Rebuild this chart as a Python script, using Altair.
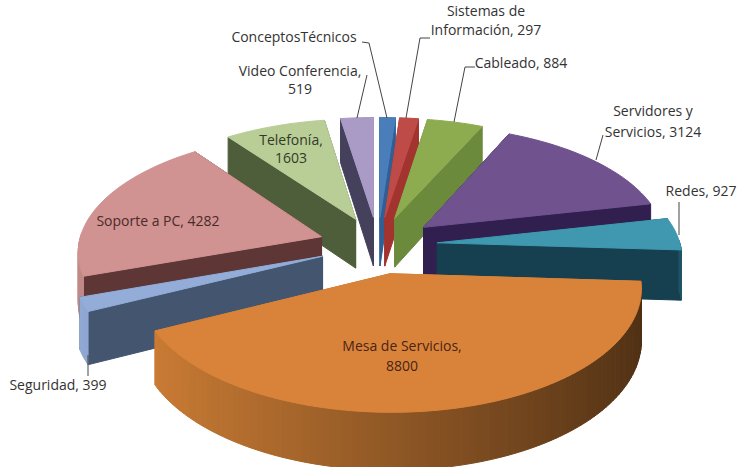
import math
import altair as alt
import pandas as pd

# Ticket counts per support area, clockwise from the right-hand side of the pie
categories = ["Mesa de Servicios", "Seguridad", "Soporte a PC", "Telefonía", "Video Conferencia",
              "ConceptosTécnicos", "Sistemas de Información", "Cableado", "Servidores y Servicios", "Redes"]
values = [8800, 399, 4282, 1603, 519, 250, 297, 884, 3124, 927]
top_colors = ["#D9833A", "#93ACD8", "#D09392", "#B9CE96", "#A99BC5",
              "#4A7EBB", "#BE4B48", "#8DAC50", "#70528F", "#3F97B0"]
wall_colors = ["#C47A30", "#44566F", "#5E3636", "#4E5E3B", "#45415C",
               "#2F5F94", "#A3332F", "#6B8A3B", "#31204F", "#16404F"]
rim_colors = ["#D07F36", "#93ACD8", "#C08A88", "#B9CE96", "#A99BC5",
              "#4A7EBB", "#BE4B48", "#8DAC50", "#70528F", "#1E5566"]

# Projection of the tilted, exploded pie
CX, CY = 378, 245
RX, RY, PERSPECTIVE = 243, 116.5, 0.11
DEPTH = 50
EXPLODE = 0.245
START_DEG = -3.5


def project(x, y, drop=0.0):
    s = 1 / (1 + PERSPECTIVE * y)
    return [round(CX + RX * x * s, 2), round(CY - RY * y * s + drop * DEPTH * s, 2)]


def polygon(points, fill):
    ring = points + [points[0]]
    return {"type": "Feature",
            "geometry": {"type": "Polygon", "coordinates": [ring]},
            "properties": {"fill": fill}}


def shade(hex_color, factor):
    rgb = [int(hex_color[i:i + 2], 16) for i in (1, 3, 5)]
    return "#" + "".join(f"{min(255, round(c * factor)):02x}" for c in rgb)


total = sum(values)
spans = []
angle = START_DEG
for value in values:
    sweep = value / total * 360
    spans.append((angle, angle - sweep))
    angle -= sweep

features = []
# Paint slices from the back of the pie towards the viewer
paint_order = sorted(range(len(values)),
                     key=lambda i: -math.sin(math.radians(sum(spans[i]) / 2)))
for i in paint_order:
    a0, a1 = spans[i]
    mid = math.radians((a0 + a1) / 2)
    ox, oy = EXPLODE * math.cos(mid), EXPLODE * math.sin(mid)
    steps = max(2, int((a0 - a1) / 1.5))
    angles = [math.radians(a0 + (a1 - a0) * t / steps) for t in range(steps + 1)]
    rim = [(ox + math.cos(a), oy + math.sin(a)) for a in angles]

    # Radial cut faces
    for x, y in (rim[0], rim[-1]):
        features.append(polygon([project(x, y), project(ox, oy),
                                 project(ox, oy, 1), project(x, y, 1)], wall_colors[i]))

    # Outer wall, lit from the left and falling into shadow on the right
    for k in range(steps):
        (x0, y0), (x1, y1) = rim[k], rim[k + 1]
        if math.sin(angles[k]) > 0.02 and math.sin(angles[k + 1]) > 0.02:
            continue
        factor = 1.0 - 0.62 * ((math.cos((angles[k] + angles[k + 1]) / 2) + 1) / 2)
        color = shade(rim_colors[i], factor if i != 9 else 1.0)
        features.append(polygon([project(x0, y0), project(x1, y1),
                                 project(x1, y1, 1), project(x0, y0, 1)], color))

    # Top face
    features.append(polygon([project(ox, oy)] + [project(x, y) for x, y in rim], top_colors[i]))

pie = alt.Chart(alt.InlineData(values={"type": "FeatureCollection", "features": features},
                               format=alt.DataFormat(property="features", type="json"))
                ).mark_geoshape(strokeWidth=1).encode(
    fill=alt.Fill("properties.fill:N", scale=None, legend=None),
    stroke=alt.Stroke("properties.fill:N", scale=None, legend=None),
).project(type="identity", scale=1, translate=[0, 0])

v = dict(zip(categories, values))
label_rows = [
    ("Sistemas de", 486, 12, "#333333"),
    (f"Información, {v['Sistemas de Información']}", 486, 31, "#333333"),
    ("ConceptosTécnicos", 294, 38, "#333333"),
    ("Video Conferencia,", 300, 72, "#333333"),
    (f"{v['Video Conferencia']}", 300, 90, "#333333"),
    (f"Cableado, {v['Cableado']}", 521, 64, "#333333"),
    ("Servidores y", 653, 112, "#333333"),
    (f"Servicios, {v['Servidores y Servicios']}", 653, 133, "#333333"),
    (f"Redes, {v['Redes']}", 701, 192, "#333333"),
    (f"Soporte a PC, {v['Soporte a PC']}", 158, 222, "#4A2A28"),
    ("Telefonía,", 291, 141, "#333B28"),
    (f"{v['Telefonía']}", 291, 159, "#333B28"),
    ("Mesa de Servicios,", 402, 347, "#4A2414"),
    (f"{v['Mesa de Servicios']}", 402, 367, "#4A2414"),
    (f"Seguridad, {v['Seguridad']}", 58, 386, "#333333"),
]
labels = alt.Chart(pd.DataFrame(label_rows, columns=["text", "px", "py", "ink"])).mark_text(
    font="Open Sans", fontSize=14, align="center", baseline="middle"
).encode(
    x=alt.X("px:Q", scale=None),
    y=alt.Y("py:Q", scale=None),
    text="text:N",
    color=alt.Color("ink:N", scale=None, legend=None),
)

leader_rows = [
    (362, 42, 369, 43), (369, 43, 387, 118),
    (367, 75, 357, 118),
    (430, 38, 420, 38), (420, 38, 406, 118),
    (475, 67, 465, 67), (465, 67, 454, 122),
    (603, 135, 596, 160),
    (679, 202, 679, 235),
    (88, 355, 88, 376),
]
leaders = alt.Chart(pd.DataFrame(leader_rows, columns=["px", "py", "px2", "py2"])).mark_rule(
    color="#444444", strokeWidth=1
).encode(
    x=alt.X("px:Q", scale=None),
    y=alt.Y("py:Q", scale=None),
    x2="px2:Q",
    y2="py2:Q",
)

chart = alt.layer(pie, leaders, labels).properties(
    width=740, height=467, padding=0, autosize=alt.AutoSizeParams(type="none"),
    background="white",
).configure_view(stroke=None)

chart.save("out.html", embed_options={"renderer": "svg", "actions": False})
